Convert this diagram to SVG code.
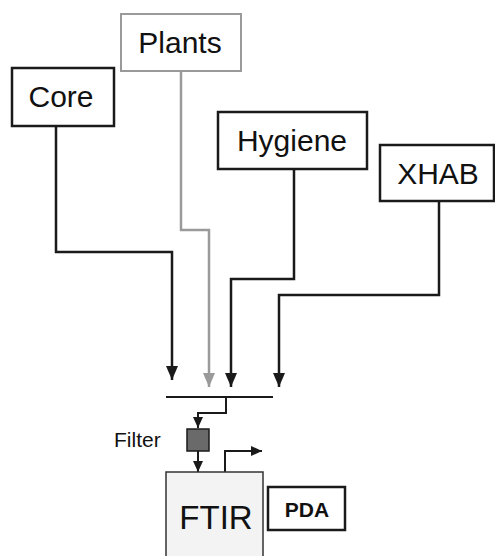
<svg xmlns="http://www.w3.org/2000/svg" width="495" height="556" viewBox="0 0 495 556">
<defs>
<style>
.box{fill:#fff;stroke:#1a1a1a;stroke-width:2.5}
.gbox{fill:#fff;stroke:#9a9a9a;stroke-width:2}
.lbl{font-family:"Liberation Sans",Arial,sans-serif;font-size:30px;fill:#111;text-anchor:middle}
.ln{fill:none;stroke:#1a1a1a;stroke-width:2.5}
.gln{fill:none;stroke:#9a9a9a;stroke-width:2.5}
.thin{fill:none;stroke:#1a1a1a;stroke-width:2}
</style>
<marker id="ah" markerUnits="userSpaceOnUse" markerWidth="15" markerHeight="15" viewBox="0 0 15 15" refX="14" refY="7.5" orient="auto">
<path d="M0,1.5 L14,7.5 L0,13.5 Z" fill="#1a1a1a"/>
</marker>
<marker id="ahg" markerUnits="userSpaceOnUse" markerWidth="15" markerHeight="15" viewBox="0 0 15 15" refX="14" refY="7.5" orient="auto">
<path d="M0,1.5 L14,7.5 L0,13.5 Z" fill="#9a9a9a"/>
</marker>
<marker id="ahs" markerUnits="userSpaceOnUse" markerWidth="12" markerHeight="12" viewBox="0 0 12 12" refX="11" refY="6" orient="auto">
<path d="M0,1 L11,6 L0,11 Z" fill="#1a1a1a"/>
</marker>
</defs>
<rect width="495" height="556" fill="#fff"/>
<g id="connectors">
<path class="ln" d="M56,126 V252 H172 V380" marker-end="url(#ah)"/>
<path class="gln" d="M181,71 V230 H209 V387" marker-end="url(#ahg)"/>
<path class="ln" d="M294,169 V279 H231 V387" marker-end="url(#ah)"/>
<path class="ln" d="M439,201 V295 H279 V387" marker-end="url(#ah)"/>
<path class="thin" d="M166,397 H273"/>
<path class="thin" d="M226,397 V413 H198 V428" marker-end="url(#ahs)"/>
<path class="thin" d="M198,451 V472" marker-end="url(#ahs)"/>
<path class="thin" d="M225,472 V451 H262" marker-end="url(#ahs)"/>
</g>
<g id="node-plants">
<rect class="gbox" x="121" y="14" width="120" height="57"/>
<text class="lbl" x="180" y="53">Plants</text>
</g>
<g id="node-core">
<rect class="box" x="12" y="68" width="102" height="58"/>
<text class="lbl" x="61" y="107">Core</text>
</g>
<g id="node-hygiene">
<rect class="box" x="218" y="112" width="149" height="57"/>
<text class="lbl" x="292" y="151">Hygiene</text>
</g>
<g id="node-xhab">
<rect class="box" x="380" y="145" width="114" height="56"/>
<text class="lbl" x="438" y="184">XHAB</text>
</g>
<g id="node-filter">
<rect x="187" y="429" width="22" height="22" fill="#6a6a6a" stroke="#1a1a1a" stroke-width="1.5"/>
<text x="114" y="447" font-family="'Liberation Sans',Arial,sans-serif" font-size="21" fill="#111">Filter</text>
</g>
<g id="node-ftir">
<rect x="166" y="472" width="97" height="90" fill="#f3f3f3" stroke="#333" stroke-width="1.5"/>
<text x="216" y="529" font-family="'Liberation Sans',Arial,sans-serif" font-size="33" fill="#111" text-anchor="middle">FTIR</text>
</g>
<g id="node-pda">
<rect class="box" x="268" y="487" width="77" height="43"/>
<text x="307" y="517" font-family="'Liberation Sans',Arial,sans-serif" font-size="21" font-weight="bold" fill="#111" text-anchor="middle">PDA</text>
</g>
</svg>
